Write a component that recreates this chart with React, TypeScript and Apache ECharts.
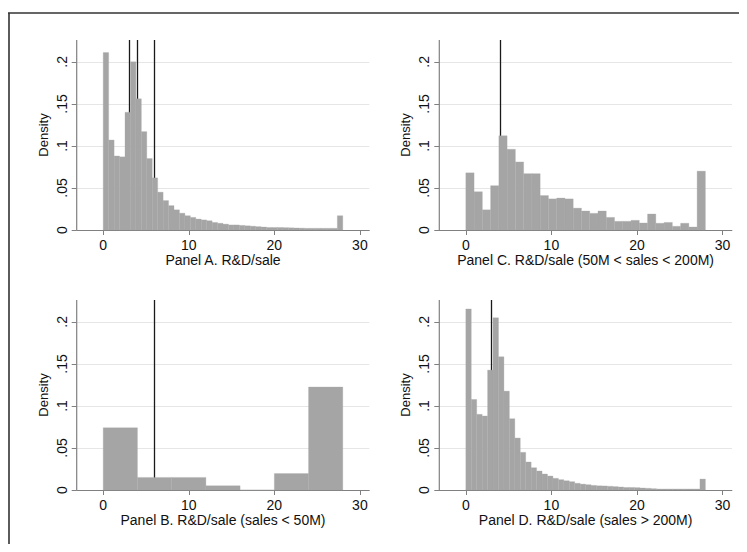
import React, { useEffect, useRef } from "react";
import * as echarts from "echarts";

// ---- data (densities per histogram bin, bins span 0..28) ----
const RANGE_MIN = 0;
const RANGE_MAX = 28;

const panelA = [
  0.211, 0.107, 0.088, 0.087, 0.140, 0.200, 0.156, 0.117, 0.085, 0.062, 0.045,
  0.035, 0.029, 0.024, 0.020, 0.017, 0.015, 0.013, 0.012, 0.011, 0.009, 0.008,
  0.007, 0.006, 0.006, 0.0055, 0.005, 0.0045, 0.004, 0.0035, 0.003, 0.003,
  0.003, 0.0028, 0.0026, 0.0024, 0.0022, 0.002, 0.002, 0.002, 0.002, 0.002,
  0.002, 0.017,
];
const panelB = [0.074, 0.015, 0.015, 0.005, 0, 0.0195, 0.1225];
const panelC = [
  0.068, 0.0455, 0.024, 0.0527, 0.112, 0.096, 0.081, 0.067, 0.067, 0.041,
  0.037, 0.038, 0.037, 0.026, 0.0226, 0.0198, 0.0226, 0.015, 0.0103, 0.0103,
  0.0115, 0.0083, 0.019, 0.008, 0.009, 0.0044, 0.008, 0.0036, 0.070,
];
const panelD = [
  0.2154, 0.1077, 0.090, 0.088, 0.1426, 0.2048, 0.1584, 0.1176, 0.0848,
  0.0618, 0.0448, 0.0333, 0.0265, 0.0226, 0.019, 0.0166, 0.0139, 0.0123,
  0.011, 0.0099, 0.008, 0.007, 0.0063, 0.0055, 0.005, 0.0048, 0.0044, 0.004,
  0.0036, 0.003, 0.003, 0.0028, 0.0024, 0.002, 0.0016, 0.0012, 0.0012, 0.0012,
  0.0012, 0.0012, 0.0012, 0.0012, 0.0012, 0.013,
];

const linesA = [3, 4, 6];
const linesB = [6];
const linesC = [4];
const linesD = [3];

const titles = [
  "Panel A. R&D/sale",
  "Panel B. R&D/sale (sales < 50M)",
  "Panel C. R&D/sale (50M < sales < 200M)",
  "Panel D. R&D/sale (sales > 200M)",
];

const xTicks = [0, 10, 20, 30];
const yTicks = [0, 0.05, 0.1, 0.15, 0.2];
const yGrid = [0.05, 0.1, 0.15, 0.2];

const X_MIN = -3.1;
const X_MAX = 31.1;
const Y_MAX = 0.226;

const FONT = "'Liberation Sans', Arial, Helvetica, sans-serif";
const BAR = "#a5a5a5";
const AXIS = "#808080";

function toBins(vals: number[]) {
  const w = (RANGE_MAX - RANGE_MIN) / vals.length;
  return vals.map((v, i) => [RANGE_MIN + i * w, RANGE_MIN + (i + 1) * w, v]);
}

function fmtY(v: number) {
  if (v === 0) return "0";
  return String(Number(v.toFixed(3))).replace(/^0\./, ".");
}

export default function App() {
  const ref = useRef<HTMLDivElement>(null);

  useEffect(() => {
    if (!ref.current) return;
    const chart = echarts.init(ref.current, null, { renderer: "svg" });

    const panels = [
      { data: panelA, lines: linesA, title: titles[0], left: 68.7, top: 32 },
      { data: panelB, lines: linesB, title: titles[1], left: 68.7, top: 292 },
      { data: panelC, lines: linesC, title: titles[2], left: 431.3, top: 32 },
      { data: panelD, lines: linesD, title: titles[3], left: 431.3, top: 292 },
    ];

    const grid = panels.map((p) => ({
      left: p.left,
      top: p.top,
      width: 292.6,
      height: 190,
      containLabel: false,
    }));

    const xAxis = panels.map((p, i) => ({
      type: "value",
      gridIndex: i,
      position: "bottom",
      min: X_MIN,
      max: X_MAX,
      name: p.title,
      nameLocation: "middle",
      nameGap: 21,
      nameTextStyle: { fontSize: 14, color: "#111", fontFamily: FONT },
      axisLine: { show: true, onZero: false, lineStyle: { color: AXIS, width: 1 } },
      axisTick: { show: true, length: 5, customValues: xTicks, lineStyle: { color: AXIS } },
      axisLabel: {
        show: true,
        customValues: xTicks,
        margin: 8,
        fontSize: 14,
        color: "#111",
        fontFamily: FONT,
      },
      splitLine: { show: false },
    }));

    const yAxis = panels.map((p, i) => ({
      type: "value",
      gridIndex: i,
      position: "left",
      min: 0,
      max: Y_MAX,
      name: "Density",
      nameLocation: "middle",
      nameGap: 27,
      nameTextStyle: { fontSize: 13, color: "#111", fontFamily: FONT },
      axisLine: { show: false, onZero: false },
      axisTick: { show: true, length: 5, customValues: yTicks, lineStyle: { color: AXIS } },
      axisLabel: {
        show: true,
        customValues: yTicks,
        rotate: 90,
        margin: 8,
        fontSize: 14,
        color: "#111",
        fontFamily: FONT,
        formatter: (v: number) => fmtY(v),
      },
      splitLine: { show: false },
    }));

    const series: any[] = [];
    panels.forEach((p, i) => {
      series.push({
        type: "line",
        xAxisIndex: i,
        yAxisIndex: i,
        data: [],
        z: 1,
        silent: true,
        markLine: {
          z: 1,
          silent: true,
          symbol: "none",
          label: { show: false },
          animation: false,
          data: [
            ...yGrid.map((v) => ({
              yAxis: v,
              lineStyle: { color: "#e6e6e6", width: 1, type: "solid" },
            })),
            ...p.lines.map((v) => ({
              xAxis: v,
              lineStyle: { color: "#1a1a1a", width: 1.3, type: "solid" },
            })),
          ],
        },
      });
      series.push({
        type: "custom",
        xAxisIndex: i,
        yAxisIndex: i,
        z: 10,
        silent: true,
        encode: { x: [0, 1], y: 2 },
        data: toBins(p.data),
        renderItem: (params: any, api: any) => {
          const x0 = api.value(0);
          const x1 = api.value(1);
          const y = api.value(2);
          const p0 = api.coord([x0, y]);
          const p1 = api.coord([x1, 0]);
          return {
            type: "rect",
            shape: { x: p0[0], y: p0[1], width: p1[0] - p0[0], height: p1[1] - p0[1] },
            style: { fill: BAR, stroke: BAR, lineWidth: 0.3 },
          };
        },
      });
      // left axis line, drawn through the axes' own scales
      series.push({
        type: "line",
        xAxisIndex: i,
        yAxisIndex: i,
        z: 12,
        silent: true,
        clip: false,
        symbol: "none",
        showSymbol: false,
        lineStyle: { color: AXIS, width: 1.2 },
        data: [
          [X_MIN, 0],
          [X_MIN, Y_MAX],
        ],
      });
    });

    chart.setOption({
      animation: false,
      backgroundColor: "#ffffff",
      textStyle: { fontFamily: FONT },
      grid,
      xAxis,
      yAxis,
      series,
      graphic: [
        {
          type: "line",
          shape: { x1: 0, y1: 5, x2: 731, y2: 5 },
          style: { stroke: "#333", lineWidth: 1.6 },
          silent: true,
        },
        {
          type: "line",
          shape: { x1: 1, y1: 5, x2: 1, y2: 536 },
          style: { stroke: "#333", lineWidth: 1.6 },
          silent: true,
        },
      ],
    });

    return () => chart.dispose();
  }, []);

  return <div ref={ref} style={{ width: 731, height: 536 }} />;
}
